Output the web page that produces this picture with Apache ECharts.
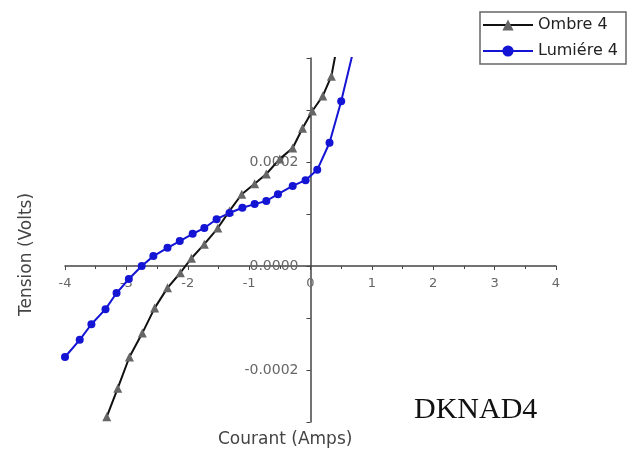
<!DOCTYPE html>
<html>
<head>
<meta charset="utf-8">
<script src="https://cdn.jsdelivr.net/npm/echarts@6/dist/echarts.min.js"></script>
<style>
  html, body { margin: 0; padding: 0; background: #fff; }
  #chart { width: 643px; height: 461px; }
</style>
</head>
<body>
<div id="chart"></div>
<script>
// courant (A) / tension (V)
var ombreX = [-3.32, -3.14, -2.95, -2.74, -2.54, -2.33, -2.12, -1.94, -1.73, -1.51, -1.32, -1.12, -0.91, -0.72, -0.50, -0.29, -0.13, 0.03, 0.20, 0.34, 0.42];
var ombreY = [-0.000290, -0.000235, -0.000175, -0.000129, -0.000081, -0.000042, -0.000013, 0.000015, 0.000042, 0.000073, 0.000106, 0.000138, 0.000158, 0.000177, 0.000206, 0.000227, 0.000265, 0.000298, 0.000327, 0.000365, 0.000415];

var lumiereX = [-4.00, -3.76, -3.57, -3.34, -3.16, -2.96, -2.75, -2.56, -2.33, -2.13, -1.92, -1.73, -1.53, -1.32, -1.11, -0.91, -0.72, -0.53, -0.29, -0.08, 0.11, 0.31, 0.50, 0.70];
var lumiereY = [-0.000175, -0.000142, -0.000112, -0.000083, -0.000052, -0.000025, 0.000000, 0.000019, 0.000035, 0.000048, 0.000062, 0.000073, 0.000090, 0.000102, 0.000112, 0.000119, 0.000125, 0.000138, 0.000154, 0.000165, 0.000185, 0.000237, 0.000317, 0.000415];

var xTicks = [-4, 4, 1];
var yTicks = [-0.0003, 0.0004, 0.0001];

function pairs(xs, ys) {
    return xs.map(function (x, i) { return [x, ys[i]]; });
}

var gridLeft = 65, gridRight = 87, gridTop = 58, gridBottom = 39;
var W = 643, H = 461;
var plotW = W - gridLeft - gridRight;
var plotH = H - gridTop - gridBottom;
// the axes cross at (0, 0): shift them in from the grid edges
var yAxisShift = plotW * (0 - xTicks[0]) / (xTicks[1] - xTicks[0]);
var xAxisShift = plotH * (0 - yTicks[0]) / (yTicks[1] - yTicks[0]);

var myChart = echarts.init(document.getElementById('chart'));
var option = {
    animation: false,
    backgroundColor: '#fff',
    grid: {
        left: gridLeft,
        right: gridRight,
        top: gridTop,
        bottom: gridBottom
    },
    legend: {
        orient: 'vertical',
        left: 480,
        top: 12,
        padding: [5, 8, 5, 2],
        itemGap: 10,
        itemWidth: 50,
        itemHeight: 14,
        borderColor: '#666',
        borderWidth: 1.5,
        backgroundColor: '#fff',
        textStyle: {
            fontFamily: 'DejaVu Sans',
            fontSize: 16,
            color: '#222'
        },
        data: ['Ombre 4', 'Lumiére 4']
    },
    xAxis: {
        type: 'value',
        position: 'bottom',
        offset: -xAxisShift,
        min: xTicks[0],
        max: xTicks[1],
        interval: xTicks[2],
        splitLine: { show: false },
        axisLine: { onZero: false, lineStyle: { color: '#444', width: 1.5 } },
        axisTick: { show: true, length: 4, lineStyle: { color: '#444' } },
        minorTick: { show: true, splitNumber: 2, length: 3, lineStyle: { color: '#444' } },
        axisLabel: {
            margin: 11,
            fontFamily: 'DejaVu Sans',
            fontSize: 13,
            color: '#666'
        }
    },
    yAxis: {
        type: 'value',
        position: 'left',
        offset: -yAxisShift,
        min: yTicks[0],
        max: yTicks[1],
        interval: yTicks[2],
        splitLine: { show: false },
        axisLine: { onZero: false, lineStyle: { color: '#444', width: 1.5 } },
        axisTick: { show: true, length: 4, lineStyle: { color: '#444' } },
        axisLabel: {
            margin: 12,
            fontFamily: 'DejaVu Sans',
            fontSize: 14,
            color: '#666',
            formatter: function (v) {
                var k = Math.round(v / 0.0001);
                if (k % 2 !== 0 || k < -2 || k > 2) return '';
                return v.toFixed(4);
            }
        }
    },
    graphic: [
        {
            type: 'text',
            left: 218,
            top: 431,
            style: { text: 'Courant (Amps)', fontFamily: 'DejaVu Sans', fontSize: 17, fill: '#444' }
        },
        {
            type: 'text',
            x: 18,
            y: 316,
            rotation: Math.PI / 2,
            style: { text: 'Tension (Volts)', fontFamily: 'DejaVu Sans', fontSize: 17, fill: '#444' }
        },
        {
            type: 'text',
            left: 414,
            top: 395,
            style: { text: 'DKNAD4', fontFamily: 'Liberation Serif', fontSize: 30, fill: '#111' }
        }
    ],
    series: [
        {
            name: 'Ombre 4',
            type: 'line',
            data: pairs(ombreX, ombreY),
            symbol: 'triangle',
            symbolSize: 9,
            lineStyle: { color: '#111', width: 2 },
            itemStyle: { color: '#666' },
            clip: true
        },
        {
            name: 'Lumiére 4',
            type: 'line',
            data: pairs(lumiereX, lumiereY),
            symbol: 'circle',
            symbolSize: 8,
            lineStyle: { color: '#1414d4', width: 2 },
            itemStyle: { color: '#1414d4' },
            clip: true
        }
    ]
};
myChart.setOption(option);
window.addEventListener('resize', function () {
    myChart.resize();
});
</script>
</body>
</html>
